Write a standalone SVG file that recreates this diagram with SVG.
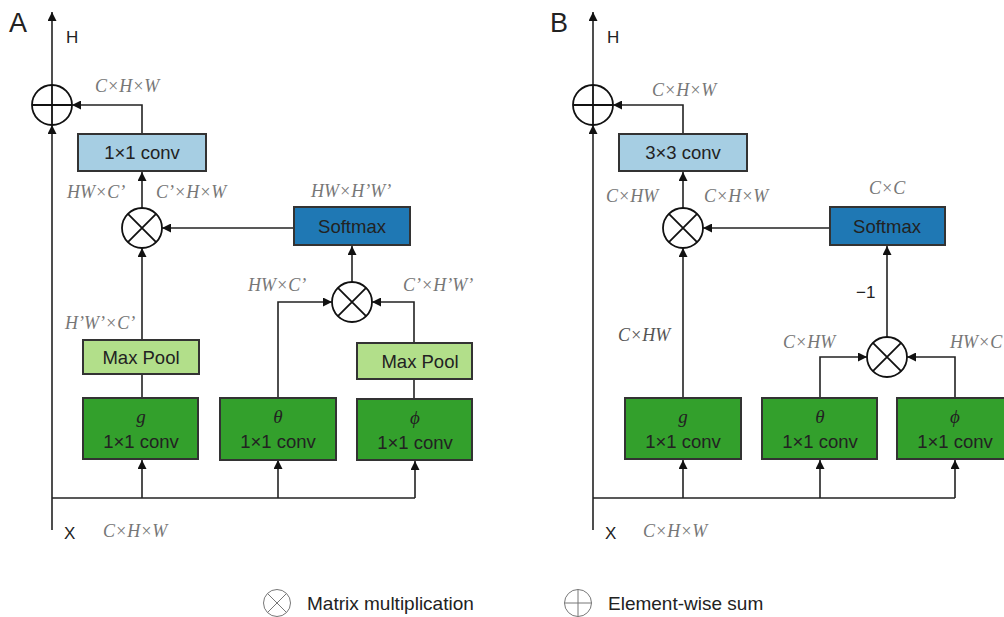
<svg xmlns="http://www.w3.org/2000/svg" width="1004" height="617" viewBox="0 0 1004 617">
<defs>
<marker id="ah" markerWidth="9" markerHeight="9" refX="9" refY="4.5" orient="auto" markerUnits="userSpaceOnUse">
<path d="M0,0 L9,4.5 L0,9 z" fill="#111"/>
</marker>
<style>
.bg{fill:#fff}
.box{stroke:#333;stroke-width:2}
.lb{fill:#a6cee3}
.db{fill:#1f78b4}
.dg{fill:#33a02c}
.lg{fill:#b2df8a}
.bt{font-family:"Liberation Sans",Arial,sans-serif;font-size:18.5px;fill:#222;text-anchor:middle}
.gk{font-family:"Liberation Serif","DejaVu Serif",serif;font-style:italic;font-size:19px;fill:#222;text-anchor:middle}
.lab{font-family:"Liberation Serif","Times New Roman",serif;font-style:italic;font-size:18px;fill:#777}
.sans{font-family:"Liberation Sans",Arial,sans-serif;fill:#222}
.op{fill:#fff;stroke:#111;stroke-width:1.8}
.opl{stroke:#111;stroke-width:1.8}
.con{fill:none;stroke:#222;stroke-width:1.6}
.leg{fill:#fff;stroke:#777;stroke-width:1}
</style>
</defs>
<rect class="bg" x="0" y="0" width="1004" height="617"/>

<g id="connectors">
<!-- Panel A -->
<path class="con" d="M52,530 V125" marker-end="url(#ah)"/>
<path class="con" d="M52,85 V12" marker-end="url(#ah)"/>
<path class="con" d="M142,134 V105 H72" marker-end="url(#ah)"/>
<path class="con" d="M142,208 V172" marker-end="url(#ah)"/>
<path class="con" d="M294,228 H162" marker-end="url(#ah)"/>
<path class="con" d="M142,340 V248" marker-end="url(#ah)"/>
<path class="con" d="M142,398 V374"/>
<path class="con" d="M352,282 V246" marker-end="url(#ah)"/>
<path class="con" d="M278,398 V302 H332" marker-end="url(#ah)"/>
<path class="con" d="M414,343 V302 H372" marker-end="url(#ah)"/>
<path class="con" d="M414,399 V379"/>
<path class="con" d="M52,498 H415"/>
<path class="con" d="M142,498 V460" marker-end="url(#ah)"/>
<path class="con" d="M278,498 V460" marker-end="url(#ah)"/>
<path class="con" d="M415,498 V461" marker-end="url(#ah)"/>
<!-- Panel B -->
<path class="con" d="M593,530 V125" marker-end="url(#ah)"/>
<path class="con" d="M593,85 V12" marker-end="url(#ah)"/>
<path class="con" d="M683,134 V105 H613" marker-end="url(#ah)"/>
<path class="con" d="M683,208 V172" marker-end="url(#ah)"/>
<path class="con" d="M830,228 H703" marker-end="url(#ah)"/>
<path class="con" d="M683,398 V248" marker-end="url(#ah)"/>
<path class="con" d="M887,337 V246" marker-end="url(#ah)"/>
<path class="con" d="M820,398 V357 H867" marker-end="url(#ah)"/>
<path class="con" d="M955,398 V357 H907" marker-end="url(#ah)"/>
<path class="con" d="M593,498 H955"/>
<path class="con" d="M683,498 V460" marker-end="url(#ah)"/>
<path class="con" d="M820,498 V460" marker-end="url(#ah)"/>
<path class="con" d="M955,498 V460" marker-end="url(#ah)"/>
</g>

<!-- Panel A nodes -->
<g id="A-label"><text class="sans" x="9" y="32" font-size="27">A</text></g>
<g id="A-H"><text class="sans" x="66" y="43" font-size="17">H</text></g>
<g id="A-X"><text class="sans" x="64" y="539" font-size="17">X</text></g>
<g id="A-sum">
<circle class="op" cx="52" cy="105" r="20"/>
<path class="opl" d="M32,105 H72 M52,85 V125"/>
</g>
<g id="A-conv1x1">
<rect class="box lb" x="78" y="134" width="128" height="37"/>
<text class="bt" x="142" y="159">1×1 conv</text>
</g>
<g id="A-mul1">
<circle class="op" cx="142" cy="228" r="20"/>
<path class="opl" d="M127.9,213.9 L156.1,242.1 M156.1,213.9 L127.9,242.1"/>
</g>
<g id="A-softmax">
<rect class="box db" x="294" y="207" width="116" height="38"/>
<text class="bt" x="352" y="233">Softmax</text>
</g>
<g id="A-mul2">
<circle class="op" cx="352" cy="302" r="20"/>
<path class="opl" d="M337.9,287.9 L366.1,316.1 M366.1,287.9 L337.9,316.1"/>
</g>
<g id="A-maxpool-g">
<rect class="box lg" x="83" y="340" width="116" height="34"/>
<text class="bt" x="141" y="364">Max Pool</text>
</g>
<g id="A-maxpool-phi">
<rect class="box lg" x="357" y="343" width="115" height="36"/>
<text class="bt" x="420" y="368">Max Pool</text>
</g>
<g id="A-g">
<rect class="box dg" x="83" y="398" width="115" height="61"/>
<text class="gk" x="141" y="423">g</text>
<text class="bt" x="141" y="448">1×1 conv</text>
</g>
<g id="A-theta">
<rect class="box dg" x="220" y="398" width="116" height="62"/>
<text class="gk" x="278" y="423">θ</text>
<text class="bt" x="278" y="448">1×1 conv</text>
</g>
<g id="A-phi">
<rect class="box dg" x="357" y="399" width="115" height="61"/>
<text class="gk" x="415" y="424">ϕ</text>
<text class="bt" x="415" y="449">1×1 conv</text>
</g>
<g id="A-labels">
<text class="lab" x="95" y="92">C×H×W</text>
<text class="lab" x="67" y="198">HW×C’</text>
<text class="lab" x="156" y="198">C’×H×W</text>
<text class="lab" x="311" y="197">HW×H’W’</text>
<text class="lab" x="248" y="291">HW×C’</text>
<text class="lab" x="403" y="291">C’×H’W’</text>
<text class="lab" x="65" y="329">H’W’×C’</text>
<text class="lab" x="103" y="537">C×H×W</text>
</g>

<!-- Panel B nodes -->
<g id="B-label"><text class="sans" x="550" y="32" font-size="27">B</text></g>
<g id="B-H"><text class="sans" x="607" y="43" font-size="17">H</text></g>
<g id="B-X"><text class="sans" x="605" y="539" font-size="17">X</text></g>
<g id="B-sum">
<circle class="op" cx="593" cy="105" r="20"/>
<path class="opl" d="M573,105 H613 M593,85 V125"/>
</g>
<g id="B-conv3x3">
<rect class="box lb" x="619" y="134" width="128" height="37"/>
<text class="bt" x="683" y="159">3×3 conv</text>
</g>
<g id="B-mul1">
<circle class="op" cx="683" cy="228" r="20"/>
<path class="opl" d="M668.9,213.9 L697.1,242.1 M697.1,213.9 L668.9,242.1"/>
</g>
<g id="B-softmax">
<rect class="box db" x="830" y="207" width="115" height="38"/>
<text class="bt" x="887" y="233">Softmax</text>
</g>
<g id="B-mul2">
<circle class="op" cx="887" cy="357" r="20"/>
<path class="opl" d="M872.9,342.9 L901.1,371.1 M901.1,342.9 L872.9,371.1"/>
</g>
<g id="B-g">
<rect class="box dg" x="625" y="398" width="116" height="61"/>
<text class="gk" x="683" y="423">g</text>
<text class="bt" x="683" y="448">1×1 conv</text>
</g>
<g id="B-theta">
<rect class="box dg" x="762" y="398" width="115" height="61"/>
<text class="gk" x="820" y="423">θ</text>
<text class="bt" x="820" y="448">1×1 conv</text>
</g>
<g id="B-phi">
<rect class="box dg" x="897" y="398" width="116" height="61"/>
<text class="gk" x="955" y="423">ϕ</text>
<text class="bt" x="955" y="448">1×1 conv</text>
</g>
<g id="B-labels">
<text class="lab" x="652" y="96">C×H×W</text>
<text class="lab" x="606" y="202">C×HW</text>
<text class="lab" x="704" y="202">C×H×W</text>
<text class="lab" x="869" y="194">C×C</text>
<text class="sans" x="856" y="298" font-size="17">−1</text>
<text class="lab" x="783" y="348">C×HW</text>
<text class="lab" x="950" y="348">HW×C</text>
<text class="lab" x="618" y="341" style="fill:#555">C×HW</text>
<text class="lab" x="643" y="537">C×H×W</text>
</g>

<!-- Legend -->
<g id="legend-mul">
<circle class="leg" cx="277" cy="603" r="13.5"/>
<path d="M267.5,593.5 L286.5,612.5 M286.5,593.5 L267.5,612.5" stroke="#777" stroke-width="1"/>
<text class="sans" x="307" y="610" font-size="19" fill="#333">Matrix multiplication</text>
</g>
<g id="legend-sum">
<circle class="leg" cx="578" cy="603" r="13.5"/>
<path d="M564.5,603 H591.5 M578,589.5 V616.5" stroke="#777" stroke-width="1"/>
<text class="sans" x="608" y="610" font-size="19" fill="#333">Element-wise sum</text>
</g>
</svg>
